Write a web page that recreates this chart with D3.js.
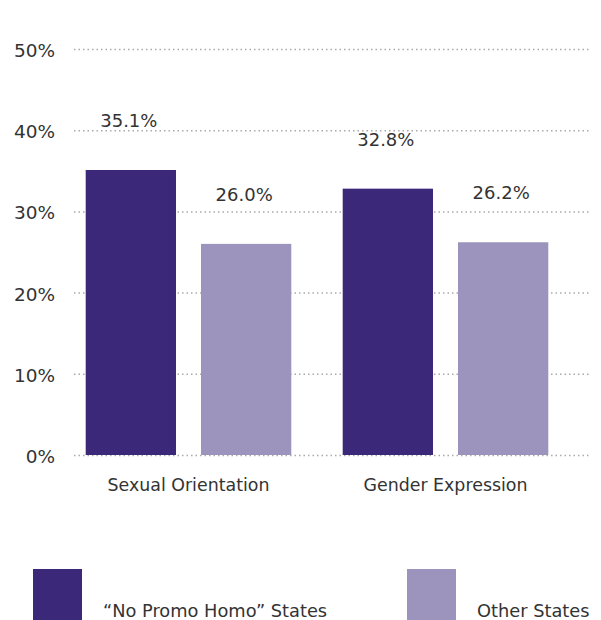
<!DOCTYPE html>
<html>
<head>
<meta charset="utf-8">
<script src="https://cdn.jsdelivr.net/npm/d3@7"></script>
<style>
  body { margin: 0; background: #fff; }
  svg text { font-family: "DejaVu Sans", "Liberation Sans", sans-serif; fill: #333; }
</style>
</head>
<body>
<div id="chart"></div>
<script>
// chart data
var categories = ['Sexual Orientation', 'Gender Expression']
var seriesNames = ['\u201CNo Promo Homo\u201D States', 'Other States']
var promoValues = [35.1, 32.8]
var otherValues = [26.0, 26.2]
var yTicks = [0, 10, 20, 30, 40, 50]

var colors = ['#3b2879', '#9c94bd']

var width = 601, height = 620

var svg = d3.select('#chart')
  .append('svg')
  .attr('width', width)
  .attr('height', height)

// scales
var x0 = d3.scaleBand().domain(categories).range([60, 574]).paddingInner(0.2).paddingOuter(0.1)
var x1 = d3.scaleBand().domain(seriesNames).range([0, x0.bandwidth()]).paddingInner(0.217)
var y = d3.scaleLinear().domain([0, 50]).range([455, 49])
var color = d3.scaleOrdinal().domain(seriesNames).range(colors)

// gridlines + tick labels
var yAxis = svg.append('g')
  .attr('transform', 'translate(55,0)')
  .call(d3.axisLeft(y).tickValues(yTicks).tickFormat(function(d) { return d + '%' }).tickSize(0).tickPadding(0))
yAxis.select('.domain').remove()
yAxis.selectAll('text')
  .style('font-size', '18.5px')
  .attr('fill', '#333')
  .attr('dy', '0.4em')
yAxis.selectAll('.tick').append('line')
  .attr('x1', 19)
  .attr('x2', 535)
  .attr('stroke', '#aaa')
  .attr('stroke-width', 1.5)
  .attr('stroke-dasharray', '1.5,3')

// rows for each category
var rows = categories.map(function(c, i) {
  return { category: c, values: [
    { series: seriesNames[0], value: promoValues[i] },
    { series: seriesNames[1], value: otherValues[i] }
  ]}
})

var groups = svg.selectAll('.group')
  .data(rows)
  .enter()
  .append('g')
  .attr('class', 'group')
  .attr('transform', function(d) { return 'translate(' + x0(d.category) + ',0)' })

groups.selectAll('rect')
  .data(function(d) { return d.values })
  .enter()
  .append('rect')
  .attr('x', function(d) { return x1(d.series) })
  .attr('width', x1.bandwidth())
  .attr('y', function(d) { return y(d.value) })
  .attr('height', function(d) { return y(0) - y(d.value) })
  .attr('fill', function(d) { return color(d.series) })

// value labels
groups.selectAll('.valueLabel')
  .data(function(d) { return d.values })
  .enter()
  .append('text')
  .attr('class', 'valueLabel')
  .attr('x', function(d) { return x1(d.series) + x1.bandwidth() / 2 - 2 })
  .attr('y', function(d) { return y(d.value) - 43 })
  .attr('text-anchor', 'middle')
  .style('font-size', '18px')
  .text(function(d) { return d.value.toFixed(1) + '%' })

// category labels
groups.append('text')
  .attr('x', x0.bandwidth() / 2)
  .attr('y', 491)
  .attr('text-anchor', 'middle')
  .style('font-size', '17.4px')
  .text(function(d) { return d.category })

// legend
var legend = svg.selectAll('.legend')
  .data(seriesNames)
  .enter()
  .append('g')
  .attr('class', 'legend')
  .attr('transform', function(d, i) { return 'translate(' + (33 + i * 374) + ',569)' })

legend.append('rect')
  .attr('width', 49)
  .attr('height', 51)
  .attr('fill', function(d) { return color(d) })

legend.append('text')
  .attr('x', 70)
  .attr('y', 48)
  .style('font-size', '17.8px')
  .text(function(d) { return d })
</script>
</body>
</html>
